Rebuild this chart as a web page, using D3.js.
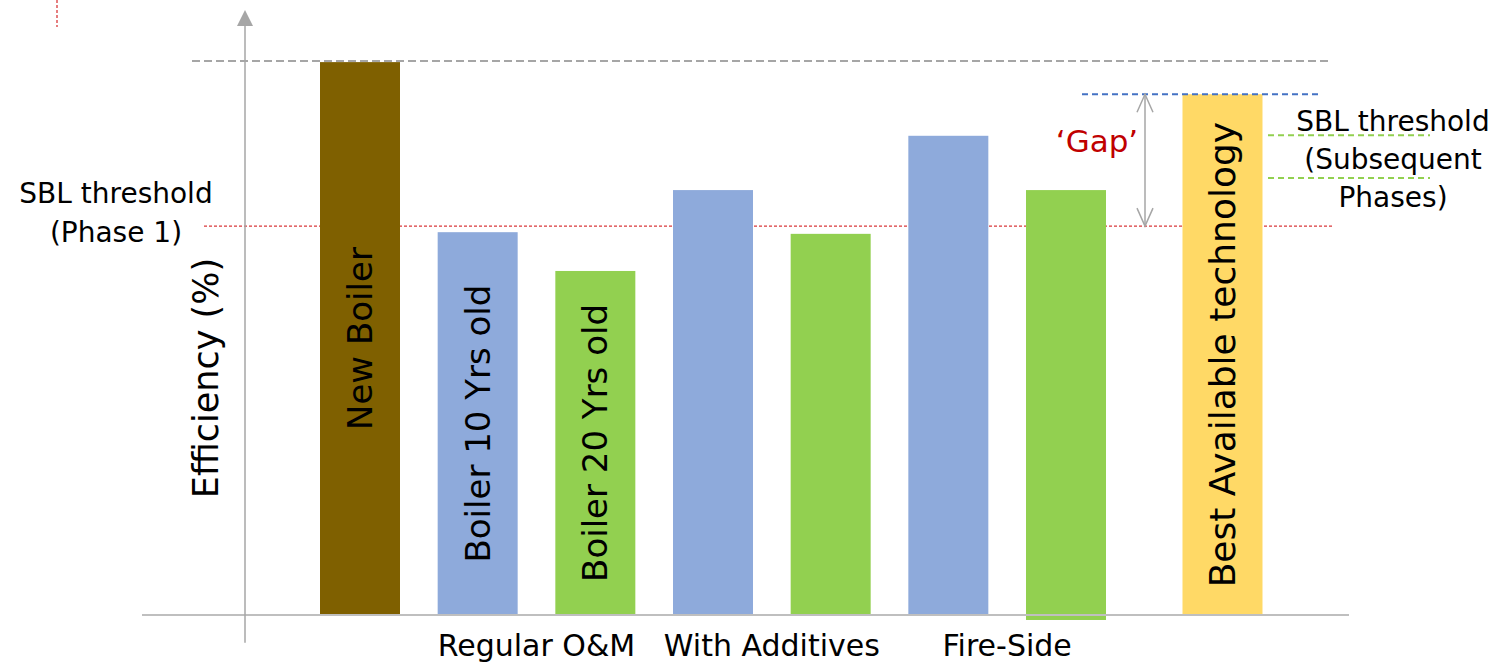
<!DOCTYPE html>
<html>
<head>
<meta charset="utf-8">
<script src="https://cdn.jsdelivr.net/npm/d3@7"></script>
<style>
  body { margin: 0; background: #fff; }
  text { font-family: "Century Gothic", "DejaVu Sans", sans-serif; fill: #000; }
</style>
</head>
<body>
<div id="chart"></div>
<script>
// bars, left to right
const barLabels = ['New Boiler', 'Boiler 10 Yrs old', 'Boiler 20 Yrs old', '', '', '', '', 'Best Available technology'];
const barKinds = ['new', 'old10', 'old20', 'old10', 'old20', 'old10', 'old20', 'bat'];
const efficiency = [99.8, 69.1, 62.1, 76.7, 68.8, 86.5, 76.7, 94.0];
const barBase = [0, 0, 0, 0, 0, 0, -0.9, 0];

// groups under the axis (pairs of bars)
const groupNames = ['Regular O&M', 'With Additives', 'Fire-Side'];
const barGroup = [-1, 0, 0, 1, 1, 2, 2, -1];

// reference levels
const newBoilerLevel = 100;
const phase1Level = 70.2;
const batLevel = 94.0;
const subsequentLevels = [86.6, 78.9];

const w = 1511;
const h = 671;
const barW = 80;

const svg = d3.select('#chart').
append('svg').
attr('width', w).
attr('height', h);

const y = d3.scaleLinear().
domain([0, 100]).
range([615, 61]);

// slot index -> x centre; the last bar sits a little further out
const x = d3.scaleLinear().
domain([0, 6]).
range([360, 1066]);
const slot = i => i < 7 ? i : 7.33;

const color = d3.scaleOrdinal().
domain(['new', 'old10', 'old20', 'bat']).
range(['#7f6000', '#8eaadb', '#92d050', '#ffd966']);

// small red tick at top left
svg.append('line').
attr('x1', 57).attr('x2', 57).
attr('y1', 0).attr('y2', 27).
attr('stroke', '#d9393b').
attr('stroke-width', 1.3).
attr('stroke-dasharray', '3,2');

// phase 1 threshold (behind bars)
svg.append('line').
attr('x1', 204).attr('x2', 1332).
attr('y1', y(phase1Level)).attr('y2', y(phase1Level)).
attr('stroke', '#d9393b').
attr('stroke-width', 1.3).
attr('stroke-dasharray', '3,2');

// bars
svg.selectAll('rect.bar').
data(efficiency).
enter().
append('rect').
attr('class', 'bar').
attr('x', (d, i) => x(slot(i)) - barW / 2).
attr('width', barW).
attr('y', d => y(d)).
attr('height', (d, i) => y(barBase[i]) - y(d)).
attr('fill', (d, i) => color(barKinds[i]));

// labels inside bars
svg.selectAll('text.barlabel').
data(efficiency).
enter().
append('text').
attr('class', 'barlabel').
attr('transform', (d, i) => 'translate(' + x(slot(i)) + ',' + (y(d) + y(barBase[i])) / 2 + ') rotate(-90)').
attr('text-anchor', 'middle').
attr('dominant-baseline', 'central').
style('font-size', (d, i) => barKinds[i] === 'bat' ? '36px' : '34px').
text((d, i) => barLabels[i]);

// baseline
svg.append('line').
attr('x1', 142).attr('x2', 1349).
attr('y1', y(0)).attr('y2', y(0)).
attr('stroke', '#bfbfbf').
attr('stroke-width', 2);

// y axis with arrow
const axisX = 245;
svg.append('line').
attr('x1', axisX).attr('x2', axisX).
attr('y1', y(-5)).attr('y2', 24).
attr('stroke', '#a6a6a6').
attr('stroke-width', 1.5);
svg.append('path').
attr('d', 'M' + axisX + ',10 L' + (axisX - 8) + ',26 L' + (axisX + 8) + ',26 Z').
attr('fill', '#a6a6a6');

svg.append('text').
attr('transform', 'translate(206,' + 378 + ') rotate(-90)').
attr('text-anchor', 'middle').
attr('dominant-baseline', 'central').
style('font-size', '35px').
text('Efficiency (%)');

// new boiler level
svg.append('line').
attr('x1', 192).attr('x2', 1330).
attr('y1', y(newBoilerLevel)).attr('y2', y(newBoilerLevel)).
attr('stroke', '#a6a6a6').
attr('stroke-width', 2).
attr('stroke-dasharray', '8,4');

// best available technology level
svg.append('line').
attr('x1', 1082).attr('x2', 1318).
attr('y1', y(batLevel)).attr('y2', y(batLevel)).
attr('stroke', '#4472c4').
attr('stroke-width', 2).
attr('stroke-dasharray', '6,4');

// subsequent phase thresholds
svg.selectAll('line.sub').
data(subsequentLevels).
enter().
append('line').
attr('class', 'sub').
attr('x1', 1268).attr('x2', 1430).
attr('y1', d => y(d)).attr('y2', d => y(d)).
attr('stroke', '#92d050').
attr('stroke-width', 2).
attr('stroke-dasharray', '6,4');

// group labels under the axis
groupNames.forEach((g, gi) => {
  const idx = barGroup.map((b, i) => b === gi ? i : -1).filter(i => i >= 0);
  const cx = d3.mean(idx, i => x(slot(i)));
  svg.append('text').
  attr('x', cx).
  attr('y', 656).
  attr('text-anchor', 'middle').
  style('font-size', '30px').
  text(g);
});

// gap arrow
const gapX = 1145;
const yTop = y(batLevel);
const yBot = y(phase1Level);
svg.append('line').
attr('x1', gapX).attr('x2', gapX).
attr('y1', yTop).attr('y2', yBot).
attr('stroke', '#a6a6a6').
attr('stroke-width', 1.5);
svg.append('path').
attr('d', 'M' + (gapX - 8) + ',' + (yTop + 18) + ' L' + gapX + ',' + yTop + ' L' + (gapX + 8) + ',' + (yTop + 18) +
  ' M' + (gapX - 8) + ',' + (yBot - 18) + ' L' + gapX + ',' + yBot + ' L' + (gapX + 8) + ',' + (yBot - 18)).
attr('fill', 'none').
attr('stroke', '#a6a6a6').
attr('stroke-width', 1.5);

svg.append('text').
attr('x', 1097).
attr('y', 152).
attr('text-anchor', 'middle').
style('font-size', '31px').
style('fill', '#c00000').
text('\u2018Gap\u2019');

// threshold captions
const leftCaption = ['SBL threshold', '(Phase 1)'];
const rightCaption = ['SBL threshold', '(Subsequent', 'Phases)'];

svg.append('text').
attr('text-anchor', 'middle').
style('font-size', '28px').
selectAll('tspan').
data(leftCaption).
enter().
append('tspan').
attr('x', 116).
attr('y', (d, i) => 203 + i * 39).
text(d => d);

svg.append('text').
attr('text-anchor', 'middle').
style('font-size', '28px').
selectAll('tspan').
data(rightCaption).
enter().
append('tspan').
attr('x', 1393).
attr('y', (d, i) => 131 + i * 38).
text(d => d);
</script>
</body>
</html>
